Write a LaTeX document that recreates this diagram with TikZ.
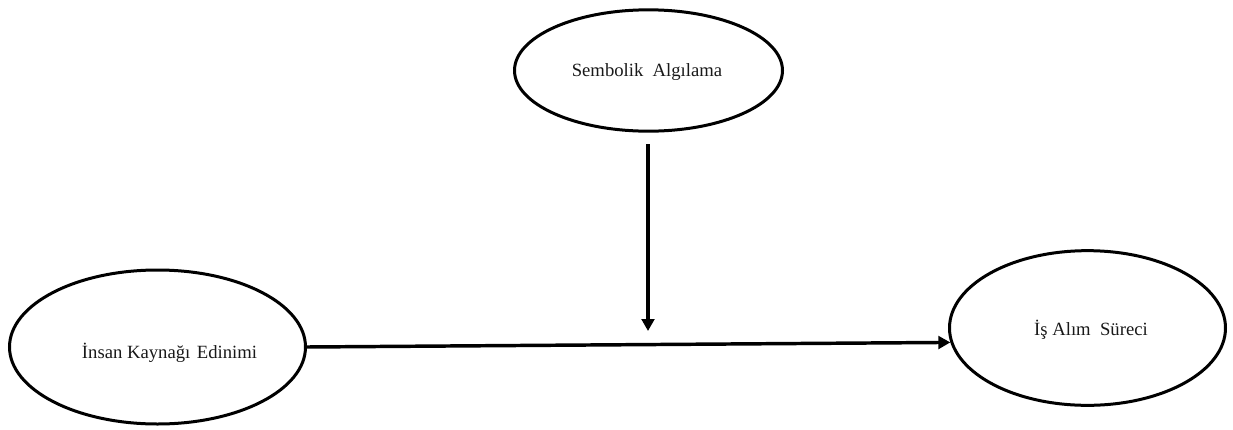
\documentclass[tikz,border=0pt]{standalone}
\usepackage{fontspec}
\setmainfont{Liberation Serif}
\usetikzlibrary{shapes.geometric,arrows.meta}
\tikzset{
  oval/.style={ellipse, draw=black, line width=2.25pt, inner sep=0pt},
  lbl/.style={font=\fontsize{14}{16}\selectfont, text=black!90, inner sep=0pt},
  conn/.style={line width=2.6pt, -{Triangle[length=9pt,width=9.5pt]}}
}
\begin{document}
\begin{tikzpicture}[x=0.75pt,y=-0.75pt]
\useasboundingbox (0,0) rectangle (1233,429);
\node[oval, minimum width=201pt, minimum height=91pt] (s) at (648.5,70.5) {};
\node[oval, minimum width=222pt, minimum height=115.5pt] (l) at (157.5,347) {};
\node[oval, minimum width=207pt, minimum height=116pt] (r) at (1087.5,328) {};
\node[lbl] (st) at (647,72) {Sembolik\ \ Algılama};
\node[lbl] (lt) at (169.5,353) {İnsan Kaynağı\hspace{0.35em}Edinimi};
\node[lbl] (rt) at (1091,330) {İş Alım\ \ Süreci};
\coordinate (vs) at (648,144);
\coordinate (ve) at (648,331);
\draw[conn] (vs) -- (ve);
\draw[conn] (l.east) -- (r.186);
\end{tikzpicture}
\end{document}
